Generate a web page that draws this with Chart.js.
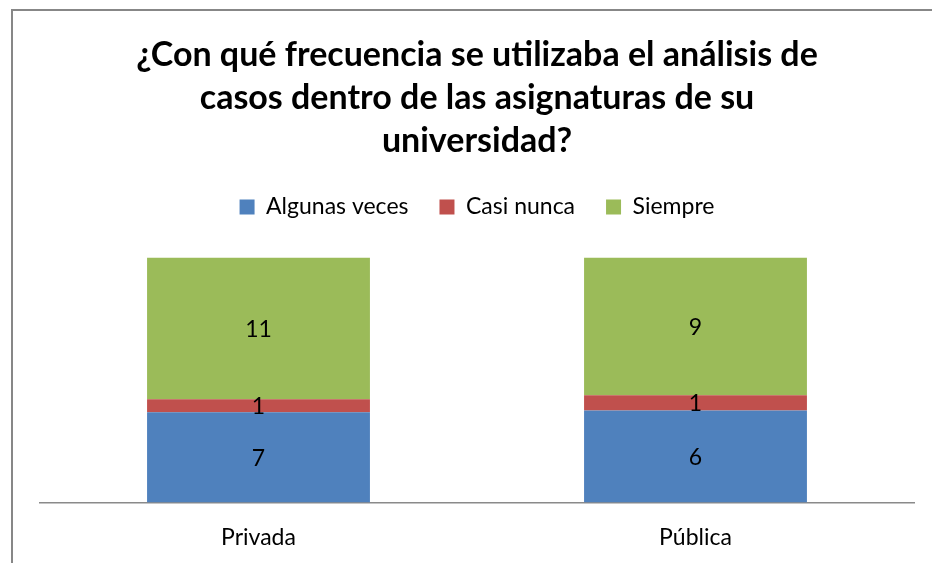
<!DOCTYPE html>
<html>
<head>
<meta charset="utf-8">
<script src="https://cdn.jsdelivr.net/npm/chart.js@4"></script>
<style>
  html, body { margin: 0; padding: 0; background: #fff; overflow: hidden; }
  #wrap { position: relative; width: 932px; height: 563px; overflow: hidden; }
  #frame { position: absolute; left: 11px; top: 9px; width: 919px; height: 560px;
           border-top: 2px solid #878787; border-left: 2px solid #878787; }
  canvas { position: absolute; left: 0; top: 0; }
</style>
</head>
<body>
<div id="wrap">
  <div id="frame"></div>
  <canvas id="chart" width="932" height="563"></canvas>
</div>
<script>
const categories = ['Privada', 'Pública'];
const seriesNames = ['Algunas veces', 'Casi nunca', 'Siempre'];
const algunasVeces = [7, 6];
const casiNunca = [1, 1];
const siempre = [11, 9];
const colors = ['#4F81BD', '#C0504D', '#9BBB59'];

const raw = [algunasVeces, casiNunca, siempre];
const totals = categories.map((c, i) => raw.reduce((s, arr) => s + arr[i], 0));

const FONT = 'Lato, "Open Sans", sans-serif';

// draws the count in the middle of each segment
const valueLabels = {
  id: 'valueLabels',
  afterDatasetsDraw(chart) {
    const ctx = chart.ctx;
    ctx.save();
    ctx.font = '23px ' + FONT;
    ctx.fillStyle = '#000';
    ctx.textAlign = 'center';
    ctx.textBaseline = 'middle';
    chart.data.datasets.forEach((ds, di) => {
      const meta = chart.getDatasetMeta(di);
      meta.data.forEach((bar, i) => {
        const y = (bar.y + bar.base) / 2 + 1;
        ctx.fillText(String(ds.counts[i]), bar.x, y);
      });
    });
    ctx.restore();
  }
};

// extra room under the legend
const legendGap = {
  id: 'legendGap',
  beforeInit(chart) {
    const fit = chart.legend.fit;
    chart.legend.fit = function () {
      fit.call(this);
      this.height += 29;
    };
  }
};

const ctx = document.getElementById('chart').getContext('2d');
new Chart(ctx, {
  type: 'bar',
  data: {
    labels: categories,
    datasets: seriesNames.map((name, k) => ({
      label: name,
      counts: raw[k],
      data: raw[k].map((v, i) => v / totals[i] * 100),
      backgroundColor: colors[k],
      borderWidth: 0,
      barPercentage: 0.51,
      categoryPercentage: 1
    }))
  },
  options: {
    responsive: false,
    animation: false,
    layout: { padding: { left: 40, right: 18, top: 33, bottom: -9 } },
    plugins: {
      title: {
        display: true,
        text: ['¿Con qué frecuencia se utilizaba el análisis de',
               'casos dentro de las asignaturas de su',
               'universidad?'],
        color: '#000',
        font: { family: FONT, size: 34, weight: 'bold', lineHeight: 1.27 },
        padding: { top: 0, bottom: 2 }
      },
      legend: {
        position: 'top',
        labels: {
          color: '#000',
          font: { family: FONT, size: 23 },
          boxWidth: 15,
          boxHeight: 15,
          padding: 31
        }
      },
      tooltip: { enabled: false }
    },
    scales: {
      x: {
        stacked: true,
        grid: { display: false, drawTicks: false },
        border: { color: '#8a8a8a', width: 1.5 },
        ticks: { color: '#000', font: { family: FONT, size: 23 }, padding: 21 }
      },
      y: {
        stacked: true,
        display: false,
        min: 0,
        max: 100
      }
    }
  },
  plugins: [valueLabels, legendGap]
});
</script>
</body>
</html>
